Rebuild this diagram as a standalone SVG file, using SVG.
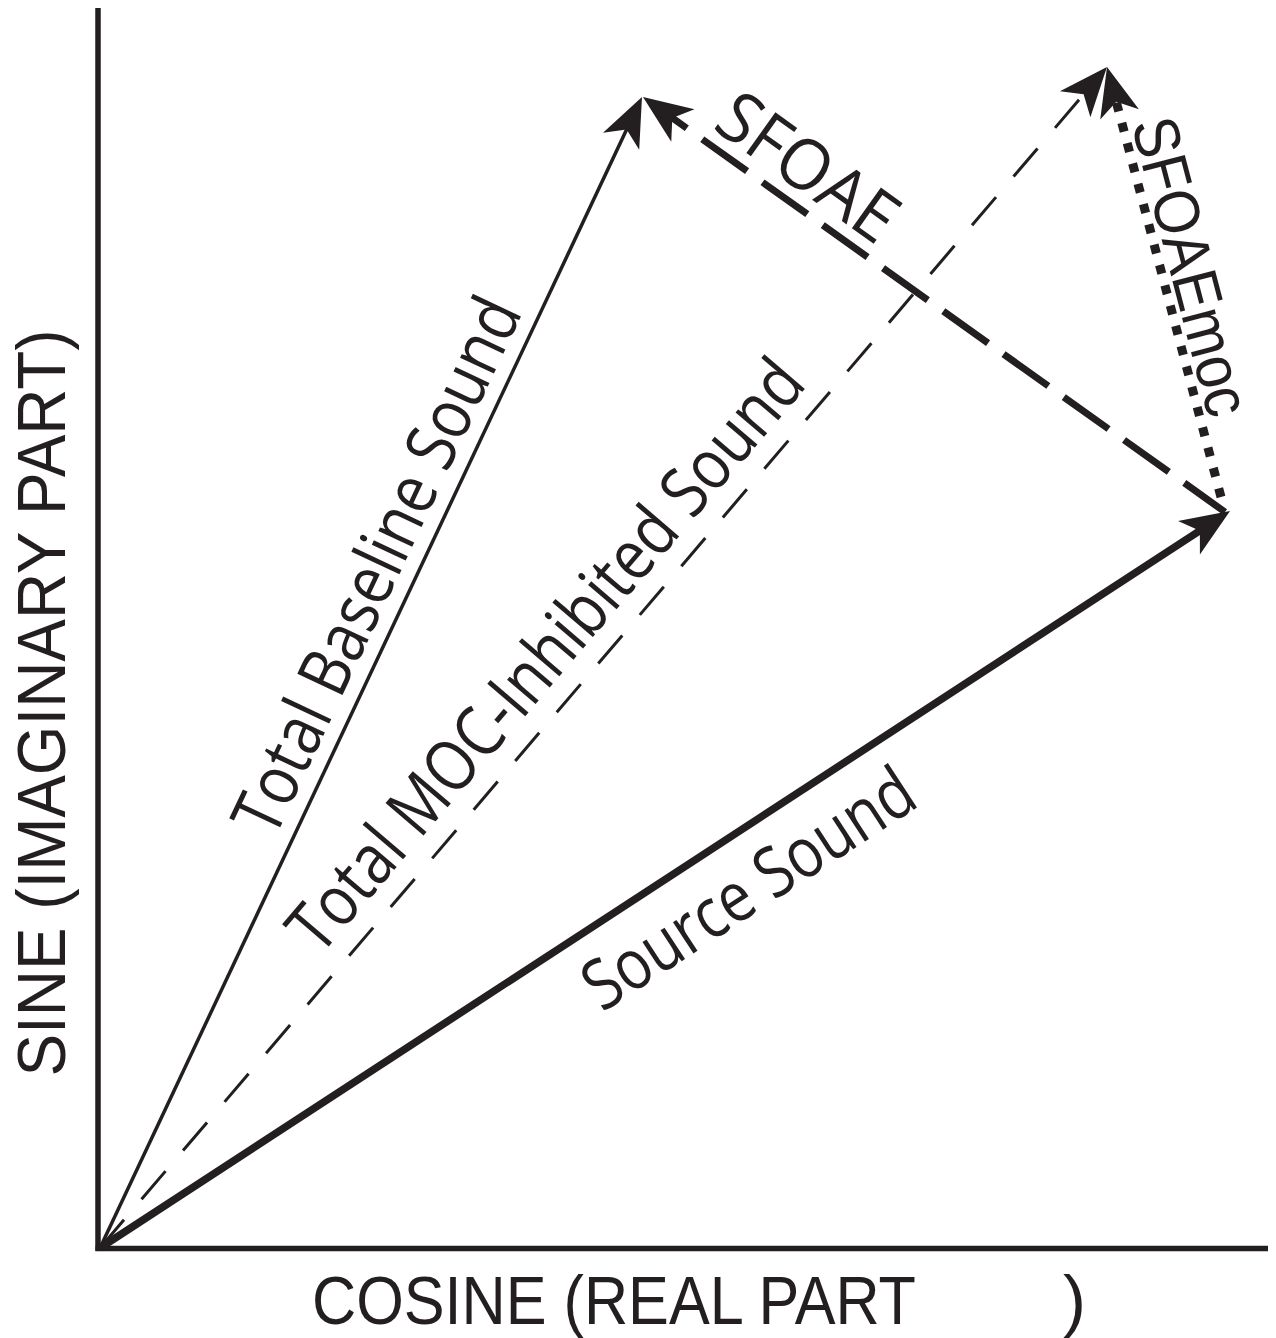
<svg xmlns="http://www.w3.org/2000/svg" width="1276" height="1338" viewBox="0 0 1276 1338">
<style>
.lbl{font-family:"Open Sans","Liberation Sans",sans-serif;font-size:70px;fill:#231f20}
.ax{font-family:"Liberation Sans",Arial,sans-serif;font-size:69px;fill:#231f20}
.ln{fill:none;stroke:#231f20;stroke-linecap:butt}
</style>
<defs>
<marker id="ah" markerUnits="userSpaceOnUse" viewBox="-25 -25 60 50" markerWidth="60" markerHeight="50" refX="0" refY="0" orient="auto" overflow="visible">
<path d="M30,0 L-19,-20 L-6,0 L-19,20 Z" fill="#231f20"/>
</marker>
</defs>
<rect width="1276" height="1338" fill="#ffffff"/>
<g id="axes">
<line class="ln" x1="98" y1="8" x2="98" y2="1251" stroke-width="5.5"/>
<line class="ln" x1="95.5" y1="1248.5" x2="1268" y2="1248.5" stroke-width="5.5"/>
</g>
<g id="connectors">
<path id="baseline" class="ln" d="M100,1248 L629.2,124.1" stroke-width="3.5" marker-end="url(#ah)"/>
<path id="moc" class="ln" d="M100,1248 L1087.5,89.8" stroke-width="3" stroke-dasharray="37 27" marker-end="url(#ah)"/>
<path id="source" class="ln" d="M100,1248 L1204.9,527.4" stroke-width="7.5" marker-end="url(#ah)"/>
<path id="sfoae" class="ln" d="M1225,512 L667.4,114.4" stroke-width="7" stroke-dasharray="55 19" stroke-dashoffset="5" marker-end="url(#ah)"/>
<path id="sfoaemoc" class="ln" d="M1221,497 L1114.7,96" stroke-width="9" stroke-dasharray="9 12" marker-end="url(#ah)"/>
</g>
<g id="label-sine"><text class="ax" transform="translate(65,703) rotate(-90)" text-anchor="middle" textLength="747" lengthAdjust="spacingAndGlyphs">SINE (IMAGINARY PART)</text></g>
<g id="label-cosine"><text class="ax" y="1324"><tspan x="312" textLength="604" lengthAdjust="spacingAndGlyphs">COSINE (REAL PART</tspan><tspan x="1063">)</tspan></text></g>
<g id="label-baseline"><text class="lbl" transform="translate(398.6,575.9) rotate(-64.78)" text-anchor="middle" textLength="584" lengthAdjust="spacingAndGlyphs">Total Baseline Sound</text></g>
<g id="label-moc"><text class="lbl" transform="translate(564,671) rotate(-49.5)" text-anchor="middle" textLength="752" lengthAdjust="spacingAndGlyphs">Total MOC-Inhibited Sound</text></g>
<g id="label-source"><text class="lbl" transform="translate(761.7,908.9) rotate(-33.14)" text-anchor="middle" textLength="381" lengthAdjust="spacingAndGlyphs">Source Sound</text></g>
<g id="label-sfoae"><text class="lbl" transform="translate(794,187) rotate(35.5)" text-anchor="middle" textLength="204" lengthAdjust="spacingAndGlyphs">SFOAE</text></g>
<g id="label-sfoaemoc"><text class="ax" style="font-size:64px" transform="translate(1170,272) rotate(75.3)" text-anchor="middle" textLength="306" lengthAdjust="spacingAndGlyphs">SFOAEmoc</text></g>
</svg>
